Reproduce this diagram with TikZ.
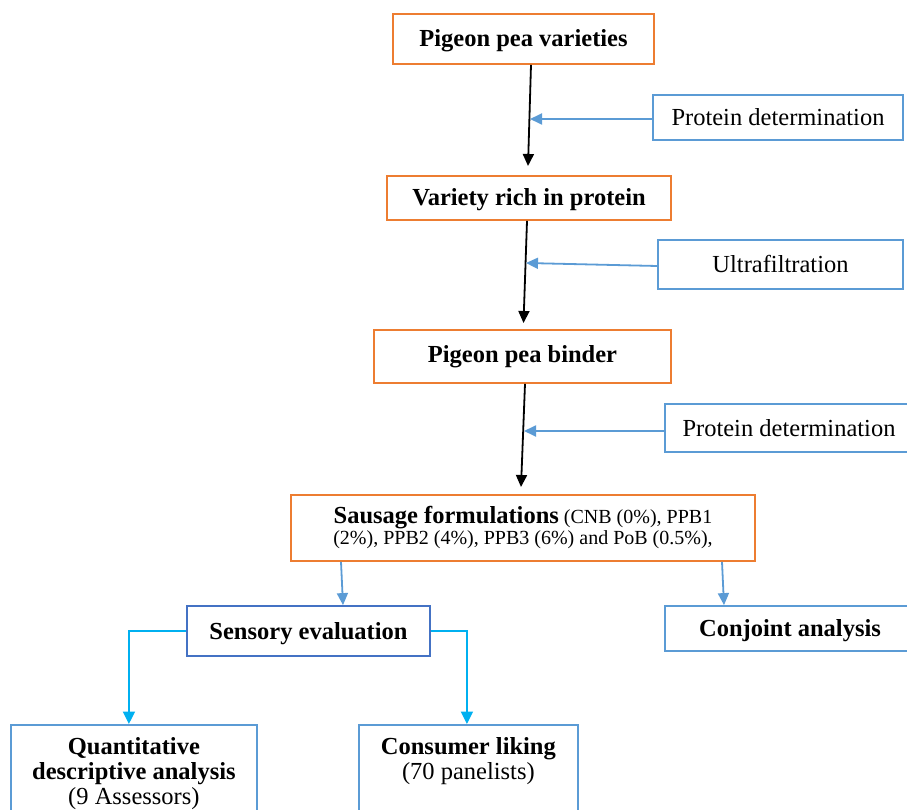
\documentclass[tikz,border=0pt]{standalone}
\usepackage{fontspec}
\setmainfont{Liberation Serif}
\usetikzlibrary{arrows.meta,calc}
\definecolor{orng}{HTML}{ED7D31}
\definecolor{lblue}{HTML}{5B9BD5}
\definecolor{dblue}{HTML}{4472C4}
\definecolor{cyanb}{HTML}{00B0F0}
\begin{document}
\begin{tikzpicture}[x=1pt,y=-1pt,
  base/.style={rectangle, line width=1.8pt, inner sep=0pt, align=center,
    font=\fontsize{24.5}{26}\selectfont},
  one/.style={text height=16pt, text depth=0pt},
  obox/.style={base, draw=orng},
  bbox/.style={base, draw=lblue},
  dbox/.style={base, draw=dblue},
  blkarrow/.style={line width=1.8pt, black, -{Triangle[length=12pt,width=11pt]}},
  bluearrow/.style={line width=1.8pt, lblue, -{Triangle[length=12pt,width=11pt]}},
  cyanarrow/.style={line width=1.8pt, cyanb, -{Triangle[length=12.5pt,width=12pt]}},
  txt/.style={inner sep=0pt, align=center, font=\fontsize{24.5}{25}\selectfont}
]
\useasboundingbox (0,0) rectangle (907,810);
\clip (0,0) rectangle (907,810);

% boxes
\node[obox, one, minimum width=261pt, minimum height=50pt] (ppv) at (523.5,39) {\textbf{Pigeon pea varieties}};
\node[bbox, one, minimum width=250pt, minimum height=45pt] (pd1) at (778,117.5) {Protein determination};
\node[obox, one, minimum width=284pt, minimum height=44pt] (vrp) at (529,198) {\textbf{Variety rich in protein}};
\node[bbox, one, minimum width=245pt, minimum height=49pt] (ultra) at (780.5,264.5) {Ultrafiltration};
\node[obox, minimum width=297pt, minimum height=53pt, text height=16pt, text depth=4pt] (ppb) at (522.5,356.5) {\textbf{Pigeon pea binder}};
\node[bbox, one, minimum width=248pt, minimum height=48pt] (pd2) at (789,428) {Protein determination};
\node[obox, minimum width=464pt, minimum height=66pt, font=\fontsize{20}{21}\selectfont] (sau) at (523,528)
  {{\fontsize{24.5}{21}\selectfont\bfseries Sausage formulations} (CNB (0\%), PPB1\\(2\%), PPB2 (4\%), PPB3 (6\%) and PoB (0.5\%),};
\node[dbox, one, minimum width=243pt, minimum height=50pt] (sens) at (308.5,631) {\textbf{Sensory evaluation}};
\node[bbox, one, minimum width=250pt, minimum height=45pt] (conj) at (790,628.5) {\textbf{Conjoint analysis}};
\node[bbox, minimum width=246pt, minimum height=120pt, anchor=north west] (qda) at (10,724) {};
\node[txt, anchor=north] (qdat) at ($(qda.north)+(0,13.5)$) {\textbf{Quantitative}\\\textbf{descriptive analysis}\\(9 Assessors)};
\node[bbox, minimum width=219pt, minimum height=120pt, anchor=north west] (cons) at (358,724) {};
\node[txt, anchor=north] (const) at ($(cons.north)+(0,13.5)$) {\textbf{Consumer liking}\\(70 panelists)};

% junction points on the main line
\coordinate (e1) at (528,166);
\coordinate (j1) at (530,119);
\coordinate (e2) at (523.5,323);
\coordinate (j2) at (526,263);
\coordinate (e3) at (521,487);
\coordinate (j3) at (524,431);

% main flow
\draw[blkarrow] ([xshift=7.5pt]ppv.south) -- (e1);
\draw[blkarrow] ([xshift=-2pt]vrp.south) -- (e2);
\draw[blkarrow] ([xshift=2.5pt]ppb.south) -- (e3);

% side inputs
\draw[bluearrow] ([yshift=-1.5pt]pd1.west) -- (j1);
\draw[bluearrow] ([yshift=-1.5pt]ultra.west) -- (j2);
\draw[bluearrow] ([yshift=-3pt]pd2.west) -- (j3);

% to sensory / conjoint
\draw[bluearrow] ([xshift=-182pt]sau.south) -- ([xshift=34.5pt]sens.north);
\draw[bluearrow] ([xshift=199pt]sau.south) -- ([xshift=-66pt]conj.north);

% sensory branches
\draw[cyanarrow] (sens.west) -| ([xshift=-5pt]qda.north);
\draw[cyanarrow] (sens.east) -| ([xshift=-1.5pt]cons.north);
\end{tikzpicture}
\end{document}
